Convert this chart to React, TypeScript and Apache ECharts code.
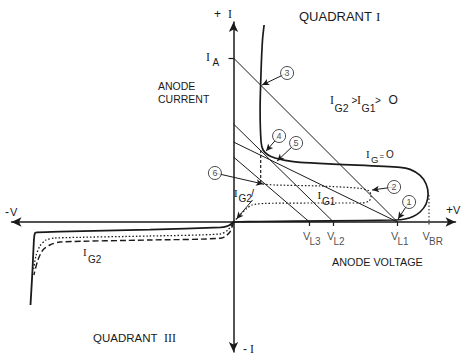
import { useEffect, useRef } from 'react';
import * as echarts from 'echarts';

// ---- data (arbitrary anode-voltage / anode-current units) ----
const vTickValues = [38, 50, 82]; // V_L3, V_L2, V_L1
const vLabelValues = [38, 50, 82, 97.75];
const vLabelSubs = ['L3', 'L2', 'L1', 'BR'];
const iA = 82;

// load lines: [current-axis intercept], [voltage-axis intercept]
const loadLineA = [[0, 82], [82, 0]];
const loadLine1 = [[0, 49], [50, 0]];
const loadLine2 = [[0, 40], [82, 0]];
const loadLine3 = [[0, 32.5], [38, 0]];

// forward characteristic, I_G = 0
const curveIG0 = [
  [0, 0], [13.3, 0.25], [48.3, 0.6], [80.8, 1], [85.8, 1.5], [89.8, 2.8], [93.3, 5],
  [96.3, 9], [97.3, 14], [96.3, 19], [93.3, 23.3], [88.3, 26.3], [83.3, 27.3],
  [53.3, 28.8], [33.3, 29.8], [25.8, 30.8], [20.8, 32], [17.3, 33.5], [14.8, 36],
  [13.8, 40], [13.3, 56], [13.8, 76], [14.5, 91], [15.3, 98.5],
];
// on-state continuation below holding point
const onStateLow = [[13.6, 36], [13.6, 19]];
// forward characteristic, I_G1 (dotted)
const curveIG1 = [
  [0, 0], [3.3, 3.5], [6.3, 6.5], [9.3, 8.5], [15.8, 9.3], [48.3, 9.5], [63.8, 9.5],
  [67.8, 10.5], [68.8, 13], [67.8, 15.5], [63.3, 16.8], [43.3, 18], [20.8, 18.5], [14.3, 19],
];
// breakover voltage marker
const vbrLine = [[97.75, 13.5], [97.75, -1.5]];

// reverse characteristics (quadrant III)
const reverseIG0 = [
  [0, 0], [-1.5, -1.2], [-3.5, -2.2], [-6.5, -2.7], [-41.8, -3.8], [-86.8, -4.8], [-98.3, -5.2],
  [-99.3, -5.6], [-99.8, -9], [-100.5, -24], [-101.5, -41.5],
];
const reverseIG1 = [
  [0, 0], [-2.8, -4], [-6.8, -6], [-41.8, -7], [-89.3, -8], [-93.8, -9], [-96.8, -12],
  [-98.8, -17], [-100, -24],
];
const reverseIG2 = [
  [0, 0], [-1.8, -5], [-5.8, -8], [-41.8, -9], [-86.8, -10], [-91.8, -11.5], [-95.3, -14],
  [-97.8, -19], [-99.8, -26.5],
];

// circled operating points: [label, circle position, arrow tip]
const markerNames = ['1', '2', '3', '4', '5', '6'];
const markerAt = [[87.8, 10], [80.3, 17.5], [26.8, 74.5], [22.8, 43], [31.3, 39.5], [-9.3, 24.5]];
const markerTip = [[82.3, 1.5], [69.3, 16], [14.3, 68.5], [16.3, 35.5], [21.8, 30.5], [14.8, 19]];
const markerCurve = [0, 0, 0, 0, 0, -0.25];

// I_G2 leader near origin
const igLeader = [[9.5, 11], [1.5, 1.5]];

// ---- styling / annotation layout ----
const INK = '#1a1a1a';
const SANS = 'Liberation Sans, Arial, sans-serif';
const SERIF = 'Liberation Serif, serif';

// [text, left x, middle y, size, serif]
const annotations: [string, number, number, number, boolean?][] = [
  ['+', 214, 14, 12],
  ['I', 228, 14, 12, true],
  ['I', 206, 57, 12, true],
  ['A', 212.5, 62.5, 10],
  ['ANODE', 158, 86, 10.5],
  ['CURRENT', 158, 99, 10.5],
  ['QUADRANT', 299, 16, 13],
  ['I', 376, 16, 13, true],
  ['I', 330, 99.5, 12, true],
  ['G2', 334.5, 107.5, 10.5],
  ['>', 351.5, 100, 10],
  ['I', 357, 99.5, 12, true],
  ['G1', 361.5, 107.5, 10.5],
  ['>', 375, 100, 10],
  ['O', 388.5, 100, 12],
  ['I', 366, 153.5, 11, true],
  ['G', 371, 159, 9.5],
  ['=', 379.5, 156, 8],
  ['O', 386, 154, 10],
  ['I', 317.5, 195, 11, true],
  ['G1', 322, 201, 10],
  ['I', 234, 193, 11, true],
  ['G2', 238.5, 198, 10],
  ['/', 251, 193, 11],
  ['-', 5, 212, 12],
  ['V', 10, 212, 11],
  ['+', 446, 210, 12],
  ['V', 453, 210, 11],
  ['-', 243, 349, 12],
  ['I', 250, 349, 12, true],
  ['ANODE VOLTAGE', 332, 262, 10.8],
  ['QUADRANT', 93, 338, 11.5],
  ['III', 164, 338, 12, true],
  ['I', 83, 252, 11, true],
  ['G2', 88, 259, 10],
];

function curve(data: number[][], width: number, type: any, smooth: number | boolean = 0.25) {
  return {
    type: 'line', data, showSymbol: false, symbol: 'none', smooth, silent: true,
    lineStyle: { color: INK, width, type }, z: 3,
  };
}

function buildOption() {
  const graphic = annotations.map(([t, x, y, s, serif]) => ({
    type: 'text', x, y, z: 100, silent: true,
    style: {
      text: t, fill: INK, fontSize: s, fontFamily: serif ? SERIF : SANS,
      textAlign: 'left', textVerticalAlign: 'middle', align: 'left', verticalAlign: 'middle',
    },
  }));

  const series: any[] = [
    curve(loadLineA, 1, 'solid', false),
    curve(loadLine1, 1, 'solid', false),
    curve(loadLine2, 1, 'solid', false),
    curve(loadLine3, 1, 'solid', false),
    curve(curveIG0, 1.7, 'solid'),
    curve(onStateLow, 1.2, [3, 2], false),
    curve(curveIG1, 1.2, [1.5, 2]),
    curve(vbrLine, 1, [1.5, 2], false),
    curve(reverseIG0, 1.8, 'solid', 0.15),
    curve(reverseIG1, 1.3, [1.5, 2]),
    curve(reverseIG2, 1.4, [6, 3]),
    {
      type: 'line', data: [], silent: true, z: 4,
      markLine: {
        silent: true, symbol: ['none', 'none'], label: { show: false },
        lineStyle: { color: INK, width: 1.2, type: 'solid' },
        data: [
          ...vTickValues.map((v) => [{ coord: [v, 0] }, { coord: [v, -2] }]),
          [{ coord: [-2.5, iA] }, { coord: [0, iA] }],
        ],
      },
    },
    {
      type: 'line', data: [], silent: true, z: 4,
      markLine: {
        silent: true, symbol: ['none', 'arrow'], symbolSize: [5, 7], label: { show: false },
        lineStyle: { color: INK, width: 1, type: 'solid' },
        data: [
          ...markerAt.map((p, i) => [
            { coord: p, lineStyle: { curveness: markerCurve[i] } },
            { coord: markerTip[i] },
          ]),
          [{ coord: igLeader[0] }, { coord: igLeader[1] }],
        ],
      },
    },
    {
      type: 'scatter', z: 10, silent: true,
      data: markerAt.map((p, i) => ({ value: p, name: markerNames[i] })),
      symbol: 'circle', symbolSize: 13,
      itemStyle: { color: '#fff', borderColor: INK, borderWidth: 1 },
      label: { show: true, position: 'inside', formatter: '{b}', fontSize: 9, color: INK, fontFamily: SANS },
    },
    {
      type: 'scatter', z: 10, silent: true,
      data: vLabelValues.map((v) => [v, 0]),
      symbolSize: 1, itemStyle: { color: 'rgba(0,0,0,0)' },
      label: {
        show: true, formatter: 'V', position: [-6, 14], align: 'left', verticalAlign: 'middle',
        fontSize: 11, color: INK, fontFamily: SANS,
      },
    },
    {
      type: 'scatter', z: 10, silent: true,
      data: vLabelValues.map((v, i) => ({ value: [v, 0], name: vLabelSubs[i] })),
      symbolSize: 1, itemStyle: { color: 'rgba(0,0,0,0)' },
      label: {
        show: true, formatter: '{b}', position: [0.5, 19.5], align: 'left', verticalAlign: 'middle',
        fontSize: 10, color: INK, fontFamily: SANS,
      },
    },
  ];

  const axisCommon = {
    type: 'value',
    axisLine: {
      show: true, onZero: true, symbol: ['arrow', 'arrow'], symbolSize: [7, 10],
      lineStyle: { color: INK, width: 1.5 },
    },
    axisTick: { show: false },
    axisLabel: { show: false },
    splitLine: { show: false },
  };

  return {
    animation: false,
    backgroundColor: '#fff',
    grid: { left: 11.5, top: 22, width: 444, height: 330, containLabel: false },
    xAxis: { ...axisCommon, min: -111, max: 111 },
    yAxis: { ...axisCommon, min: -65, max: 100 },
    series,
    graphic,
  };
}

export default function App() {
  const ref = useRef<HTMLDivElement>(null);
  useEffect(() => {
    const chart = echarts.init(ref.current!, null, { renderer: 'svg' });
    chart.setOption(buildOption() as any);
    return () => chart.dispose();
  }, []);
  return (
    <div
      ref={ref}
      style={{ position: 'fixed', left: 0, top: 0, width: 465, height: 356, background: '#fff' }}
    />
  );
}
